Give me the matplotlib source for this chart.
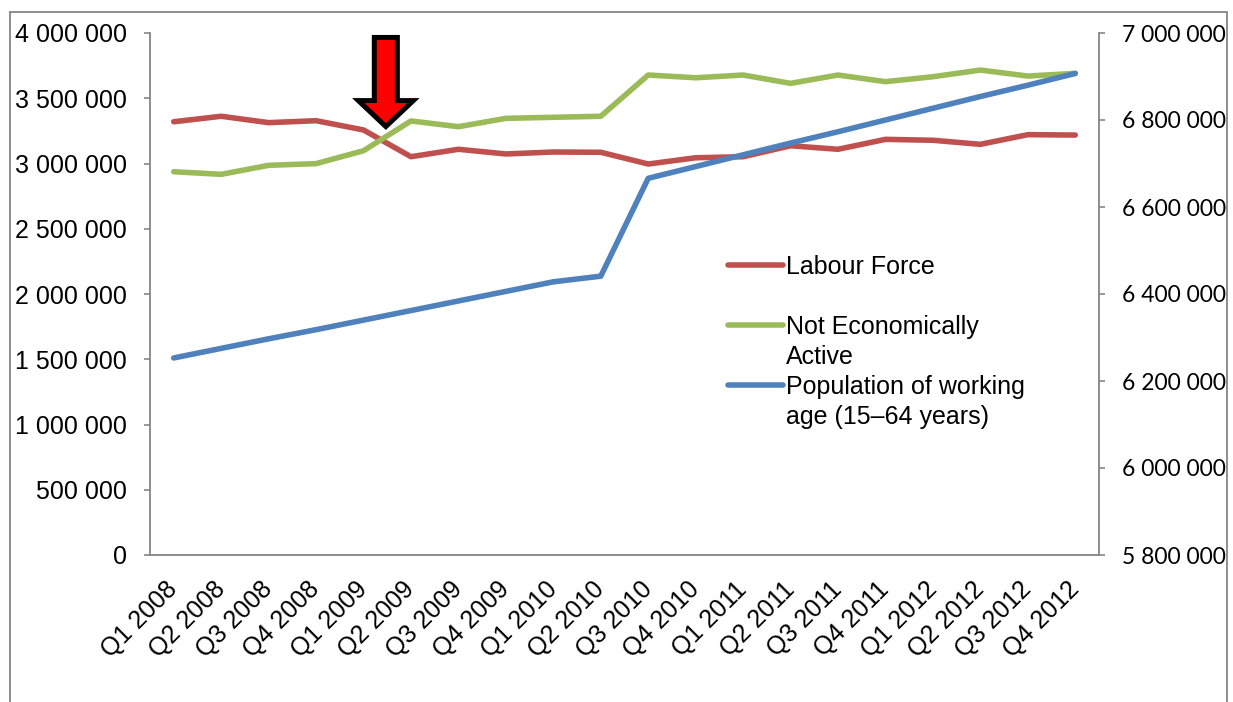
import matplotlib
matplotlib.use('Agg')
import matplotlib.pyplot as plt
from matplotlib.lines import Line2D
from matplotlib.patches import Rectangle
from matplotlib.ticker import FuncFormatter

# data
quarters = ['Q1 2008', 'Q2 2008', 'Q3 2008', 'Q4 2008',
            'Q1 2009', 'Q2 2009', 'Q3 2009', 'Q4 2009',
            'Q1 2010', 'Q2 2010', 'Q3 2010', 'Q4 2010',
            'Q1 2011', 'Q2 2011', 'Q3 2011', 'Q4 2011',
            'Q1 2012', 'Q2 2012', 'Q3 2012', 'Q4 2012']
labour_force = [3320000, 3362000, 3313000, 3328000, 3257000, 3052000, 3109000, 3073000, 3088000, 3086000,
                2996000, 3044000, 3052000, 3136000, 3109000, 3185000, 3178000, 3147000, 3221000, 3218000]
not_active = [2937000, 2917000, 2986000, 2999000, 3098000, 3326000, 3282000, 3346000, 3354000, 3362000,
              3678000, 3657000, 3678000, 3614000, 3678000, 3627000, 3665000, 3716000, 3670000, 3691000]
population = [6253000, 6275000, 6297000, 6318000, 6340000, 6362000, 6384000, 6406000, 6428000, 6441000,
              6666000, 6693000, 6720000, 6747000, 6773000, 6800000, 6827000, 6854000, 6880000, 6907000]
left_ticks = list(range(0, 4000001, 500000))
right_ticks = list(range(5800000, 7000001, 200000))

RED = '#C0504D'
GREEN = '#9BBB59'
BLUE = '#4F81BD'
GREY = '#868686'
LW = 4.0

plt.rcParams['font.family'] = ['Liberation Sans', 'DejaVu Sans']
plt.rcParams['font.size'] = 18

def spaced(v, pos=None):
    return '{:,}'.format(int(v)).replace(',', ' ')

fig = plt.figure(figsize=(12.33, 7.02), dpi=100)
ax = fig.add_axes([150 / 1233, 1 - 555 / 702, 949 / 1233, 522 / 702])
ax2 = ax.twinx()

x = list(range(len(quarters)))
ax.plot(x, labour_force, color=RED, lw=LW, solid_capstyle='round', solid_joinstyle='round')
ax.plot(x, not_active, color=GREEN, lw=LW, solid_capstyle='round', solid_joinstyle='round')
ax2.plot(x, population, color=BLUE, lw=LW, solid_capstyle='round', solid_joinstyle='round')

ax.set_xlim(-0.5, len(quarters) - 0.5)
ax.set_ylim(0, 4000000)
ax2.set_ylim(5800000, 7000000)
ax.set_yticks(left_ticks)
ax2.set_yticks(right_ticks)
ax.yaxis.set_major_formatter(FuncFormatter(spaced))
ax2.yaxis.set_major_formatter(FuncFormatter(spaced))

ax.set_xticks(x)
ax.set_xticklabels(quarters, rotation=45, ha='right', va='center', rotation_mode='anchor')
ax.tick_params(axis='x', length=0, pad=22)
ax.tick_params(axis='y', length=4.5, width=1.2, color=GREY, pad=12)
ax2.tick_params(axis='y', length=4.5, width=1.2, color=GREY, pad=12)
for lab in ax2.get_yticklabels():
    lab.set_fontfamily(['Lato', 'DejaVu Sans'])
    lab.set_fontsize(16.5)

for a in (ax, ax2):
    a.spines['top'].set_visible(False)
    for s in ('left', 'right', 'bottom'):
        a.spines[s].set_color(GREY)
        a.spines[s].set_linewidth(1.3)
ax.spines['right'].set_visible(False)
ax2.spines['left'].set_visible(False)
ax2.spines['bottom'].set_visible(False)

# red arrow pointing at Q1/Q2 2009
ax2.annotate('', xy=(4.47, 3283000), xycoords=ax.transData,
             xytext=(4.47, 3966000), textcoords=ax.transData,
             arrowprops=dict(arrowstyle='simple,head_length=18.7,head_width=39.6,tail_width=16.6',
                             mutation_scale=1, fc='#FF0000', ec='black', lw=3.6,
                             shrinkA=0, shrinkB=0, joinstyle='miter'),
             zorder=10)

# legend, handles sit on the first line of each label
blank = Line2D([], [], color='none')
handles = [Line2D([], [], color=RED, lw=LW, solid_capstyle='round'), blank,
           Line2D([], [], color=GREEN, lw=LW, solid_capstyle='round'), blank,
           Line2D([], [], color=BLUE, lw=LW, solid_capstyle='round'), blank]
labels = ['Labour Force', ' ', 'Not Economically', 'Active',
          'Population of working', 'age (15\u201364 years)']
ax2.legend(handles, labels, loc='upper left', bbox_to_anchor=(728 / 1233, 1 - 255 / 702),
           bbox_transform=fig.transFigure, frameon=False, fontsize=18,
           handlelength=2.2, handletextpad=0.12, borderpad=0, borderaxespad=0,
           labelspacing=0.24)

# outer chart frame
fig.patches.append(Rectangle((10 / 1233, -0.05), 1217 / 1233, 1.05 - 12 / 702,
                             transform=fig.transFigure, fill=False,
                             edgecolor=GREY, lw=1.3))

fig.savefig('out.png', dpi=100)
